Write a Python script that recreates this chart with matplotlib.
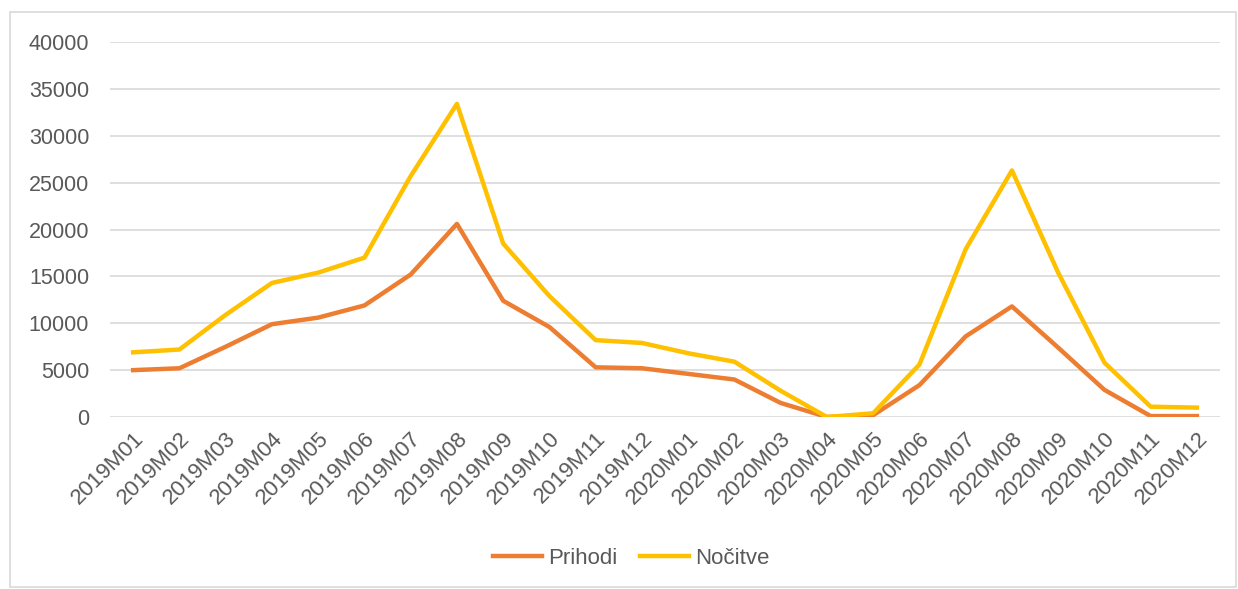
import matplotlib
matplotlib.use("Agg")
import matplotlib.pyplot as plt
from matplotlib.patches import Rectangle

# mesečni podatki
meseci = ["2019M01", "2019M02", "2019M03", "2019M04", "2019M05", "2019M06",
          "2019M07", "2019M08", "2019M09", "2019M10", "2019M11", "2019M12",
          "2020M01", "2020M02", "2020M03", "2020M04", "2020M05", "2020M06",
          "2020M07", "2020M08", "2020M09", "2020M10", "2020M11", "2020M12"]
prihodi = [5000, 5200, 7500, 9900, 10600, 11900, 15200, 20600, 12400, 9600, 5300, 5200,
           4600, 4000, 1500, 0, 200, 3400, 8600, 11800, 7400, 2900, 100, 100]
nocitve = [6900, 7200, 10900, 14300, 15400, 17000, 25700, 33400, 18500, 12900, 8200, 7900,
           6800, 5900, 2800, 0, 400, 5600, 17900, 26300, 15400, 5800, 1100, 1000]
yticks = [0, 5000, 10000, 15000, 20000, 25000, 30000, 35000, 40000]

plt.rcParams['font.family'] = ['Liberation Sans', 'DejaVu Sans']

fig = plt.figure(figsize=(12.38, 5.89), dpi=100)
ax = fig.add_axes([0.0889, 0.292, 0.8966, 0.6367])

x = range(len(meseci))
ax.plot(x, prihodi, color='#ED7D31', lw=3.2, label='Prihodi', solid_joinstyle='round')
ax.plot(x, nocitve, color='#FFC000', lw=3.2, label='Nočitve', solid_joinstyle='round')

ax.set_xlim(-0.5, len(meseci) - 0.5)
ax.set_ylim(0, 40000)
ax.set_yticks(yticks)
ax.set_yticklabels([str(v) for v in yticks], fontsize=15.5, color='#595959')
ax.set_xticks(list(x))
ax.set_xticklabels(meseci, rotation=45, ha='right', rotation_mode='anchor',
                   fontsize=16, color='#595959')
ax.tick_params(axis='both', length=0)
ax.tick_params(axis='y', pad=15)
ax.tick_params(axis='x', pad=8)
ax.grid(axis='y', color='#D9D9D9', lw=1.2)
ax.set_axisbelow(True)
for s in ax.spines.values():
    s.set_visible(False)

fig.legend(loc='center', bbox_to_anchor=(0.51, 0.052), ncol=2, frameon=False,
           fontsize=16, labelcolor='#595959', handlelength=2.2, columnspacing=1.0,
           handletextpad=0.3)

# okvir okoli grafa
fig.patches.append(Rectangle((0.008, 0.003), 0.99, 0.976, transform=fig.transFigure,
                             fill=False, edgecolor='#D9D9D9', lw=1.2))

fig.savefig('out.png', dpi=100)
